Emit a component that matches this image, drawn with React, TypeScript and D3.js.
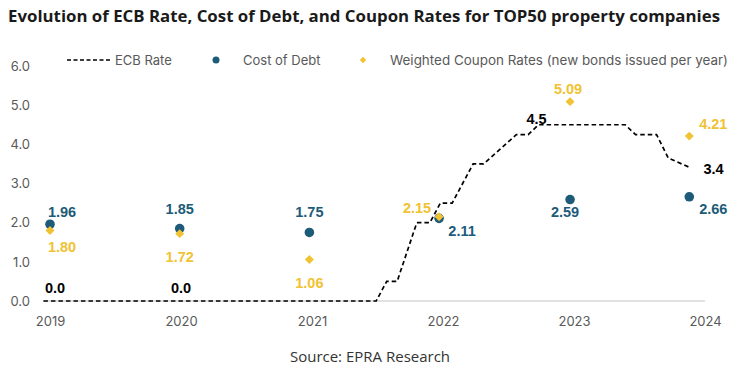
import React, { useEffect, useRef } from 'react';
import { select, scaleLinear, line, axisLeft, axisBottom, symbol, symbolSquare } from 'd3';

const years = [2019, 2020, 2021, 2022, 2023, 2024];
// where each yearly point sits on the chart's time axis
const pointDates = [2019, 2019.99, 2020.98, 2021.97, 2022.97, 2023.88];
const costOfDebt = [1.96, 1.85, 1.75, 2.11, 2.59, 2.66];
const couponRates = [1.8, 1.72, 1.06, 2.15, 5.09, 4.21];

// ECB rate
const ecbDates = [
  2018.95, 2021.49, 2021.57, 2021.65, 2021.8, 2021.9, 2021.98, 2022.07, 2022.23,
  2022.31, 2022.56, 2022.65, 2022.73, 2023.39, 2023.47, 2023.63, 2023.72, 2023.89,
];
const ecbRates = [0, 0, 0.5, 0.5, 2.0, 2.0, 2.5, 2.5, 3.5, 3.5, 4.25, 4.25, 4.5, 4.5, 4.25, 4.25, 3.65, 3.4];
const ecbLabelDates = [2019, 2020, 2022.73, 2023.89];
const ecbLabelValues = [0.0, 0.0, 4.5, 3.4];

const yTicks = [0, 1, 2, 3, 4, 5, 6];

// label offsets (px) from each marker
const codOffsets = [[12, -12], [0, -20], [0, -20], [23, 13], [-5, 12], [24, 12]];
const couponOffsets = [[12, 16], [0, 23], [0, 24], [-22, -9], [-2, -13], [24, -12]];
const ecbOffsets = [[5, -13], [0, -13], [-2, -6], [23, 1]];

const BLUE = '#1d5b79';
const GOLD = '#f1c232';
const GRAY = '#595959';

const App = () => {
  const yAxisRef = useRef<SVGGElement>(null);
  const xAxisRef = useRef<SVGGElement>(null);

  const x = scaleLinear().domain([2019, 2024]).range([50, 705]);
  const y = scaleLinear().domain([0, 6]).range([301, 66]);

  useEffect(() => {
    const ya = select(yAxisRef.current);
    // @ts-ignore
    ya.call(axisLeft(y).tickValues(yTicks).tickSize(0).tickPadding(0).tickFormat((d) => d.toFixed(1)));
    ya.select('.domain').remove();
    ya.selectAll('text')
      .attr('fill', GRAY)
      .style('font-family', 'Inter, sans-serif')
      .style('font-size', '13px');

    const xa = select(xAxisRef.current);
    // @ts-ignore
    xa.call(axisBottom(x).tickValues(years).tickSize(0).tickPadding(0).tickFormat((d) => String(d)));
    xa.select('.domain').remove();
    xa.selectAll('text')
      .attr('fill', GRAY)
      .attr('dy', '0')
      .style('font-family', 'Inter, sans-serif')
      .style('font-size', '13px');
  }, []);

  const ecbLine = line<number>()
    .x((d, i) => x(ecbDates[i]))
    .y((d) => y(d));

  const diamond = symbol().type(symbolSquare).size(40)() || '';
  const legendDiamond = symbol().type(symbolSquare).size(20)() || '';

  const numStyle = {
    fontFamily: '"Liberation Sans", Arial, sans-serif',
    fontWeight: 700,
    fontSize: 14.5,
  } as React.CSSProperties;

  return (
    <svg width={744} height={370} style={{ position: 'absolute', left: 0, top: 0, background: '#fff' }}>
      <text
        x={8}
        y={22}
        textLength={712}
        lengthAdjust="spacingAndGlyphs"
        fill="#1a1a1a"
        style={{ fontFamily: '"Open Sans", sans-serif', fontWeight: 700, fontSize: 15.5 }}
      >
        Evolution of ECB Rate, Cost of Debt, and Coupon Rates for TOP50 property companies
      </text>

      {/* legend */}
      <g style={{ fontFamily: 'Inter, sans-serif', fontSize: 13 }} fill={GRAY}>
        <line x1={67} x2={111} y1={60} y2={60} stroke="#000" strokeWidth={1.6} strokeDasharray="4 2.5" />
        <text x={115} y={65}>ECB Rate</text>
        <circle cx={216} cy={60} r={3.5} fill={BLUE} />
        <text x={243} y={65}>Cost of Debt</text>
        <path d={legendDiamond} transform="translate(363,60) rotate(45)" fill={GOLD} />
        <text x={390} y={65} textLength={338} lengthAdjust="spacingAndGlyphs">
          Weighted Coupon Rates (new bonds issued per year)
        </text>
      </g>

      <g ref={yAxisRef} transform="translate(30,0)" />
      <g ref={xAxisRef} transform="translate(0,326)" />

      <line x1={43} x2={705} y1={y(0)} y2={y(0)} stroke="#d9d9d9" strokeWidth={1.5} />

      <path d={ecbLine(ecbRates) || ''} fill="none" stroke="#000" strokeWidth={1.7} strokeDasharray="4.5 3" />

      {costOfDebt.map((v, i) => (
        <circle key={'c' + i} cx={x(pointDates[i])} cy={y(v)} r={4.8} fill={BLUE} />
      ))}
      {couponRates.map((v, i) => (
        <path
          key={'d' + i}
          d={diamond}
          transform={`translate(${x(pointDates[i])},${y(v)}) rotate(45)`}
          fill={GOLD}
        />
      ))}

      <g style={numStyle} textAnchor="middle" dominantBaseline="central">
        {costOfDebt.map((v, i) => (
          <text key={'cl' + i} x={x(pointDates[i]) + codOffsets[i][0]} y={y(v) + codOffsets[i][1]} fill={BLUE}>
            {v.toFixed(2)}
          </text>
        ))}
        {couponRates.map((v, i) => (
          <text key={'dl' + i} x={x(pointDates[i]) + couponOffsets[i][0]} y={y(v) + couponOffsets[i][1]} fill={GOLD}>
            {v.toFixed(2)}
          </text>
        ))}
        {ecbLabelValues.map((v, i) => (
          <text key={'el' + i} x={x(ecbLabelDates[i]) + ecbOffsets[i][0]} y={y(v) + ecbOffsets[i][1]} fill="#000">
            {v.toFixed(1)}
          </text>
        ))}
      </g>

      <text
        x={370}
        y={362}
        textAnchor="middle"
        fill="#333"
        style={{ fontFamily: '"Open Sans", sans-serif', fontSize: 15 }}
      >
        Source: EPRA Research
      </text>
    </svg>
  );
};

export default App;
